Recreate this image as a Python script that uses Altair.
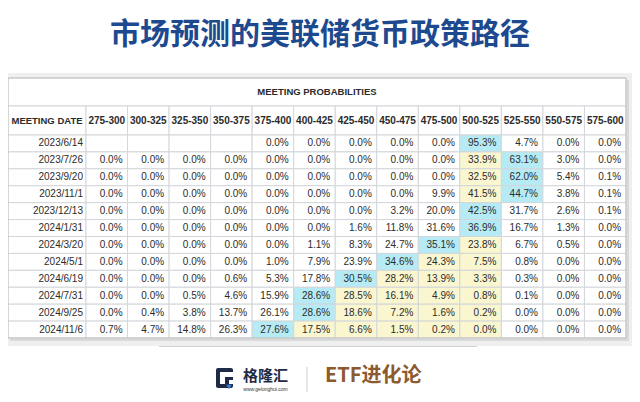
import altair as alt
import pandas as pd

title_text = "市场预测的美联储货币政策路径"
table_title = "MEETING PROBABILITIES"
date_header = "MEETING DATE"

ranges = ["275-300", "300-325", "325-350", "350-375", "375-400", "400-425", "425-450",
          "450-475", "475-500", "500-525", "525-550", "550-575", "575-600"]
current_range = "500-525"

dates = ["2023/6/14", "2023/7/26", "2023/9/20", "2023/11/1", "2023/12/13", "2024/1/31",
         "2024/3/20", "2024/5/1", "2024/6/19", "2024/7/31", "2024/9/25", "2024/11/6"]

p_2023_06_14 = [None, None, None, None, 0.0, 0.0, 0.0, 0.0, 0.0, 95.3, 4.7, 0.0, 0.0]
p_2023_07_26 = [0.0, 0.0, 0.0, 0.0, 0.0, 0.0, 0.0, 0.0, 0.0, 33.9, 63.1, 3.0, 0.0]
p_2023_09_20 = [0.0, 0.0, 0.0, 0.0, 0.0, 0.0, 0.0, 0.0, 0.0, 32.5, 62.0, 5.4, 0.1]
p_2023_11_01 = [0.0, 0.0, 0.0, 0.0, 0.0, 0.0, 0.0, 0.0, 9.9, 41.5, 44.7, 3.8, 0.1]
p_2023_12_13 = [0.0, 0.0, 0.0, 0.0, 0.0, 0.0, 0.0, 3.2, 20.0, 42.5, 31.7, 2.6, 0.1]
p_2024_01_31 = [0.0, 0.0, 0.0, 0.0, 0.0, 0.0, 1.6, 11.8, 31.6, 36.9, 16.7, 1.3, 0.0]
p_2024_03_20 = [0.0, 0.0, 0.0, 0.0, 0.0, 1.1, 8.3, 24.7, 35.1, 23.8, 6.7, 0.5, 0.0]
p_2024_05_01 = [0.0, 0.0, 0.0, 0.0, 1.0, 7.9, 23.9, 34.6, 24.3, 7.5, 0.8, 0.0, 0.0]
p_2024_06_19 = [0.0, 0.0, 0.0, 0.6, 5.3, 17.8, 30.5, 28.2, 13.9, 3.3, 0.3, 0.0, 0.0]
p_2024_07_31 = [0.0, 0.0, 0.5, 4.6, 15.9, 28.6, 28.5, 16.1, 4.9, 0.8, 0.1, 0.0, 0.0]
p_2024_09_25 = [0.0, 0.4, 3.8, 13.7, 26.1, 28.6, 18.6, 7.2, 1.6, 0.2, 0.0, 0.0, 0.0]
p_2024_11_06 = [0.7, 4.7, 14.8, 26.3, 27.6, 17.5, 6.6, 1.5, 0.2, 0.0, 0.0, 0.0, 0.0]

rows = [p_2023_06_14, p_2023_07_26, p_2023_09_20, p_2023_11_01, p_2023_12_13, p_2024_01_31,
        p_2024_03_20, p_2024_05_01, p_2024_06_19, p_2024_07_31, p_2024_09_25, p_2024_11_06]

# ---- build table records (highlight: blue = row max, yellow = between max and current range)
cur = ranges.index(current_range)
records = []
for d, vals in zip(dates, rows):
    nums = [v if v is not None else -1 for v in vals]
    m = nums.index(max(nums))
    if m < cur:
        yellow = set(range(m + 1, cur + 1))
    elif m > cur:
        yellow = set(range(cur, m))
    else:
        yellow = set()
    for i, (r, v) in enumerate(zip(ranges, vals)):
        status = "max" if i == m else ("cur" if i in yellow else "none")
        records.append({"date": d, "range": r, "value": v,
                        "label": "" if v is None else f"{v:.1f}%", "status": status})
df = pd.DataFrame(records)
hdr = pd.DataFrame({"range": ranges})
dts = pd.DataFrame({"date": dates})
one = pd.DataFrame({"k": [0]})

W, H = 540, 203
LEFT = 78
GRID = "#d3d6da"
TXT = "#2b2b2b"
FONT = "Liberation Sans"
CJK = "Noto Sans CJK SC"

xs = alt.X("range:N", sort=ranges, axis=None,
           scale=alt.Scale(type="band", paddingInner=0, paddingOuter=0))
ys = alt.Y("date:N", sort=dates, axis=None,
           scale=alt.Scale(type="band", paddingInner=0, paddingOuter=0))

def box(x1, x2, y1, y2, **kw):
    return alt.Chart(one).mark_rect(**kw).encode(
        x=alt.value(x1), x2=alt.value(x2), y=alt.value(y1), y2=alt.value(y2))

def label(text, x, y, **kw):
    return alt.Chart(one).mark_text(text=text, **kw).encode(x=alt.value(x), y=alt.value(y))

band = box(-LEFT, W + 6, -62, 211, fill="#efefef")
shadow = box(-LEFT + 2, W + 3, -55, 206, fill="#dadada")
top_cell = box(-LEFT, W, -57, -29, fill="white", stroke=GRID, strokeWidth=1)
date_hdr_cell = box(-LEFT, 0, -29, 0, fill="white", stroke=GRID, strokeWidth=1)

hdr_cells = alt.Chart(hdr).mark_rect(fill="white", stroke=GRID, strokeWidth=1).encode(
    x=xs, y=alt.value(-29), y2=alt.value(0))
hdr_text = alt.Chart(hdr).mark_text(font=FONT, fontSize=10, fontWeight="bold", color=TXT,
                                    baseline="middle").encode(
    x=xs, y=alt.value(-14), text="range:N")

date_cells = alt.Chart(dts).mark_rect(fill="white", stroke=GRID, strokeWidth=1).encode(
    x=alt.value(-LEFT), x2=alt.value(0), y=ys)
date_text = alt.Chart(dts).mark_text(font=FONT, fontSize=10, color=TXT, align="right",
                                     baseline="middle").encode(
    x=alt.value(-3), y=ys, text="date:N")

cells = alt.Chart(df).mark_rect(stroke=GRID, strokeWidth=1).encode(
    x=xs, y=ys,
    fill=alt.Fill("status:N", legend=None,
                  scale=alt.Scale(domain=["max", "cur", "none"],
                                  range=["#b6ebf5", "#faf6cf", "#ffffff"])))
cell_text = alt.Chart(df).mark_text(font=FONT, fontSize=10, color=TXT, align="right",
                                    baseline="middle", dx=15.8).encode(
    x=xs, y=ys, text="label:N")

outline = box(-LEFT, W, -57, H, fillOpacity=0, stroke="#c2c2c2", strokeWidth=1)

t_title = label(table_title, 231, -43, font=FONT, fontSize=9.5, fontWeight="bold",
                color=TXT, baseline="middle")
t_date = label(date_header, -39, -14, font=FONT, fontSize=9.5, fontWeight="bold",
               color=TXT, baseline="middle")

main_title = label(title_text, 234, -100, font=CJK, fontSize=30, fontWeight="bold",
                   color="#1d4a8f", baseline="middle")

sep = box(73, 391, 211, 212, fill="#d2d2d2")

# footer logo
logo_a = box(130, 147, 233, 253, fill="#1f2b46", cornerRadius=2)
logo_b = box(134, 147, 237, 249, fill="white")
logo_c = box(139, 147, 242, 245, fill="#1f2b46")
logo_d = box(139, 143, 242, 249, fill="#1f2b46")
logo_e = alt.Chart(one).mark_point(shape="triangle-down", filled=True, size=30,
                                   color="#3b7fd8", opacity=1).encode(
    x=alt.value(143), y=alt.value(252))
logo_txt = label("格隆汇", 179.5, 241, font=CJK, fontSize=15, fontWeight="bold",
                 color="#1f2b46", baseline="middle")
logo_url = label("www.gelonghui.com", 179.5, 253.5, font=FONT, fontSize=5,
                 color="#333333", baseline="middle")
divider = box(220.5, 221.5, 232, 258, fill="#cfcfcf")
etf = label("ETF进化论", 239, 241, font=CJK, fontSize=20, fontWeight="bold",
            color="#8c5a2e", baseline="middle", align="left")

chart = alt.layer(
    band, shadow, top_cell, date_hdr_cell, hdr_cells, date_cells, cells, outline,
    hdr_text, date_text, cell_text, t_title, t_date, main_title, sep,
    logo_a, logo_b, logo_c, logo_d, logo_e, logo_txt, logo_url, divider, etf
).properties(
    width=W, height=H,
    autosize=alt.AutoSizeParams(type="none"),
    padding={"left": LEFT, "top": 127, "right": 6, "bottom": 54},
    background="white"
).configure_view(stroke=None)

chart.save("out.html", embed_options={"renderer": "svg", "actions": False})
